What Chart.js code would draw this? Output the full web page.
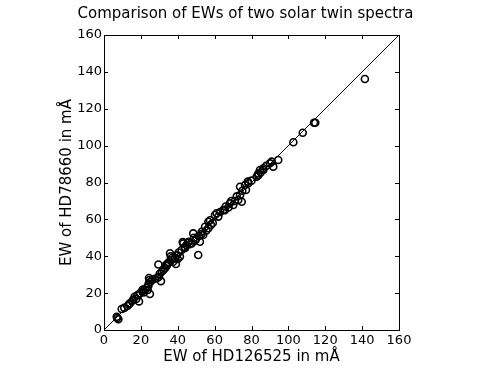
<!DOCTYPE html>
<html>
<head>
<meta charset="utf-8">
<script src="https://cdn.jsdelivr.net/npm/chart.js@4.4.1/dist/chart.umd.min.js"></script>
<style>
html,body{margin:0;padding:0;background:#fff;}
canvas{display:block;}
</style>
</head>
<body>
<canvas id="c" width="491" height="368"></canvas>
<script>
// EW of HD126525 (x) and HD78660 (y), in mÅ
const ewHD126525 = [6.9,7.8,7.2,9.6,12.7,14.1,15.4,16.6,17.5,18.1,19.0,19.5,20.8,21.5,22.3,23.7,24.0,24.4,24.6,25.0,24.9,23.2,24.2,26.0,28.9,29.8,30.9,29.5,31.3,32.2,33.1,33.6,34.5,35.1,35.8,36.2,36.7,37.5,38.5,39.0,39.5,40.5,41.2,42.1,42.7,43.0,43.8,44.8,45.5,46.5,47.6,48.4,48.8,49.5,51.1,52.0,51.5,53.0,53.8,54.8,55.5,56.6,56.6,58.0,60.2,61.1,62.0,64.7,66.0,67.5,68.3,70.1,71.0,72.8,74.7,73.8,73.8,75.0,76.5,78.3,78.0,82.8,83.7,83.7,84.6,86.4,86.4,90.0,90.9,91.8,94.5,102.7,107.8,113.9,114.6,141.5,
  27.5,30.2,34.0,37.0,40.0,44.0,46.0,50.0,52.8,57.5,59.0,63.0,65.5,69.0,72.0,77.0,80.0,85.0,88.0,21.0,18.5,16.0,11.0,13.5];
const ewHD78660 = [7.2,5.8,6.5,11.4,13.0,14.5,15.9,18.0,16.8,18.8,15.5,19.9,21.1,20.3,21.8,21.7,23.9,28.2,27.1,26.0,19.5,23.0,25.0,27.0,28.2,28.9,26.5,35.5,31.6,32.5,33.5,35.2,36.0,36.7,41.6,40.0,38.0,37.0,38.9,35.8,40.5,42.0,39.8,43.4,47.7,47.0,45.0,46.1,47.5,46.5,47.0,52.4,50.0,48.5,40.7,47.9,51.0,53.3,51.5,56.0,54.0,58.7,55.2,57.0,62.4,63.3,61.5,65.1,67.0,66.5,68.7,67.8,70.0,70.5,69.6,73.2,77.7,75.5,78.6,79.6,80.5,83.2,84.9,84.0,86.8,87.7,86.8,90.4,91.3,88.6,92.2,101.8,107.0,112.4,112.4,136.1,
  27.8,30.5,34.8,39.2,38.5,44.5,47.8,49.5,52.0,59.5,58.0,64.0,65.0,70.0,72.5,76.0,81.0,85.5,89.0,22.0,19.0,16.5,12.0,14.0];
const diagonal = [0, 160];
const tickValues = [0,20,40,60,80,100,120,140,160];

const points = ewHD126525.map((x,i)=>({x:x, y:ewHD78660[i]}));
const linePts = [{x:diagonal[0], y:diagonal[0]}, {x:diagonal[1], y:diagonal[1]}];

const FONT = "'DejaVu Sans', sans-serif";

const frame = {
  id:'frame',
  afterDraw(chart){
    const {ctx, chartArea:a, scales} = chart;
    const xs = scales.x, ys = scales.y;
    ctx.save();
    ctx.strokeStyle = '#000';
    ctx.lineWidth = 1;
    ctx.beginPath();
    tickValues.forEach(v=>{
      const px = Math.round(xs.getPixelForValue(v))+0.5;
      ctx.moveTo(px, a.bottom); ctx.lineTo(px, a.bottom-4);
      ctx.moveTo(px, a.top); ctx.lineTo(px, a.top+4);
      const py = Math.round(ys.getPixelForValue(v))+0.5;
      ctx.moveTo(a.left, py); ctx.lineTo(a.left+4, py);
      ctx.moveTo(a.right, py); ctx.lineTo(a.right-4, py);
    });
    ctx.stroke();
    ctx.strokeRect(Math.round(a.left)+0.5, Math.round(a.top)+0.5, Math.round(a.right-a.left), Math.round(a.bottom-a.top));
    ctx.restore();
  }
};

new Chart(document.getElementById('c'), {
  data: {
    datasets: [
      {type:'scatter', data: points, borderColor:'#000', backgroundColor:'rgba(0,0,0,0)', pointRadius:3.5, pointBorderWidth:1.6, pointHoverRadius:3.5, clip:false, order:1},
      {type:'line', data: linePts, borderColor:'#000', borderWidth:1, pointRadius:0, fill:false, order:2}
    ]
  },
  options: {
    responsive:false,
    animation:false,
    devicePixelRatio:1,
    layout:{padding:{left:0,right:0,top:0,bottom:0}},
    plugins:{
      legend:{display:false},
      tooltip:{enabled:false},
      title:{display:true, text:'Comparison of EWs of two solar twin spectra', color:'#000', font:{family:FONT, size:15, weight:'normal'}, padding:{top:5,bottom:12}}
    },
    scales:{
      x:{type:'linear', min:0, max:160, position:'bottom',
        afterFit(s){ s.height = 38; },
        afterBuildTicks(s){ s.ticks = tickValues.map(v=>({value:v})); },
        ticks:{color:'#000', font:{family:FONT, size:13}, padding:3, maxRotation:0},
        grid:{display:false, drawTicks:false}, border:{display:false},
        title:{display:true, text:'EW of HD126525 in mÅ', color:'#000', font:{family:FONT, size:15}, padding:{top:0,bottom:2}}
      },
      y:{type:'linear', min:0, max:160, position:'left',
        afterFit(s){ s.width = 104; },
        afterBuildTicks(s){ s.ticks = tickValues.map(v=>({value:v})); },
        ticks:{color:'#000', font:{family:FONT, size:13}, padding:2},
        grid:{display:false, drawTicks:false}, border:{display:false},
        title:{display:true, text:'EW of HD78660 in mÅ', color:'#000', font:{family:FONT, size:15}, padding:{top:58,bottom:0}}
      },
      yRight:{type:'linear', min:0, max:160, position:'right', display:true,
        afterFit(s){ s.width = 92; },
        ticks:{display:false}, grid:{display:false, drawTicks:false}, border:{display:false}
      }
    }
  },
  plugins:[frame]
});
</script>
</body>
</html>
